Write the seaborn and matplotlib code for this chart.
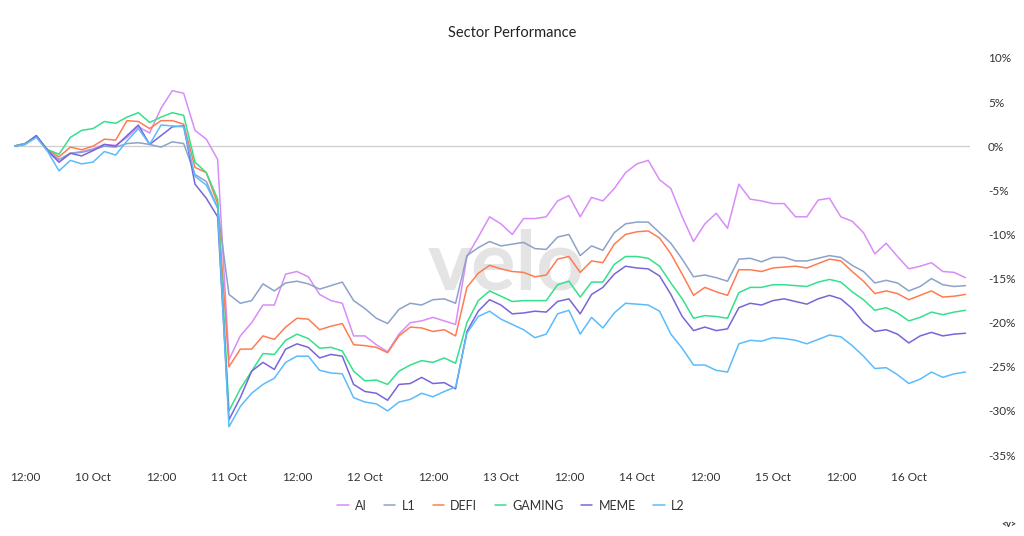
import numpy as np
import pandas as pd
import seaborn as sns
import matplotlib.pyplot as plt
import matplotlib.dates as mdates
from matplotlib.ticker import FuncFormatter, FixedLocator

# 2-hourly samples, % change since start
times = pd.date_range("2025-10-09 10:00", periods=85, freq="2h")

ai = [0, 0.3, 1.2, -0.5, -1.8, -0.8, -0.6, -0.3, 0.2, 0.1,
      1.0, 2.2, 1.5, 4.3, 6.3, 6.0, 1.8, 0.8, -1.5, -24.2,
      -21.5, -20.0, -18.0, -18.0, -14.5, -14.2, -14.8, -16.8, -17.5, -17.8,
      -21.5, -21.5, -22.5, -23.3, -21.3, -20.0, -19.8, -19.4, -19.8, -20.2,
      -12.5, -10.3, -8.0, -8.8, -10.0, -8.2, -8.2, -8.0, -6.2, -5.6,
      -8.0, -5.8, -6.2, -4.8, -3.0, -2.0, -1.6, -3.8, -4.8, -8.0,
      -10.8, -8.8, -7.6, -9.3, -4.3, -6.0, -6.2, -6.5, -6.5, -8.0,
      -8.0, -6.1, -5.9, -8.0, -8.5, -9.8, -12.2, -11.0, -12.5, -13.9,
      -13.6, -13.2, -14.2, -14.3, -14.9]
l1 = [0, 0.3, 1.2, -0.5, -1.5, -0.8, -0.7, -0.4, 0.0, -0.1,
      0.3, 0.4, 0.2, -0.1, 0.5, 0.3, -3.2, -4.0, -7.0, -16.8,
      -17.8, -17.5, -15.6, -16.4, -15.5, -15.3, -15.6, -16.2, -15.8, -15.4,
      -17.5, -18.4, -19.5, -20.1, -18.5, -17.8, -18.0, -17.4, -17.3, -17.8,
      -12.4, -11.5, -10.8, -11.3, -11.1, -10.9, -11.6, -11.7, -10.3, -10.0,
      -12.4, -11.3, -11.8, -9.8, -8.8, -8.6, -8.6, -9.8, -11.0, -12.8,
      -14.8, -14.6, -14.9, -15.3, -12.8, -12.7, -13.1, -12.6, -12.6, -13.0,
      -13.0, -12.7, -12.4, -12.6, -13.5, -14.2, -15.5, -15.2, -15.5, -16.4,
      -15.9, -15.0, -15.7, -15.9, -15.8]
defi = [0, 0.3, 1.1, -0.4, -1.2, -0.1, -0.4, 0.0, 0.8, 0.7,
        2.9, 2.8, 2.0, 2.9, 2.9, 2.5, -2.4, -3.0, -6.5, -25.0,
        -23.0, -23.0, -21.5, -21.9, -20.5, -19.5, -19.6, -20.8, -20.4, -20.1,
        -22.5, -22.6, -22.8, -23.4, -21.5, -20.5, -20.6, -21.0, -20.8, -21.5,
        -16.0, -14.4, -13.5, -13.9, -14.2, -14.3, -14.8, -14.6, -12.8, -12.5,
        -14.3, -13.0, -13.2, -11.1, -10.0, -9.7, -9.6, -10.4, -12.2, -14.5,
        -16.9, -16.0, -16.5, -16.9, -14.0, -14.0, -14.2, -13.8, -13.7, -13.6,
        -13.8, -13.3, -12.8, -13.0, -14.2, -15.3, -16.7, -16.4, -16.7, -17.4,
        -16.9, -16.4, -17.1, -17.0, -16.8]
gaming = [0, 0.3, 1.1, -0.4, -0.9, 1.0, 1.8, 2.0, 2.8, 2.6,
          3.3, 3.8, 2.7, 3.3, 3.8, 3.5, -1.8, -3.0, -6.0, -30.0,
          -27.5, -25.5, -23.5, -23.6, -22.0, -21.3, -21.8, -22.9, -22.8, -23.2,
          -25.5, -26.6, -26.5, -27.0, -25.5, -24.8, -24.3, -24.5, -24.0, -24.6,
          -20.0, -17.5, -16.4, -17.0, -17.6, -17.5, -17.5, -17.5, -15.7, -15.3,
          -17.1, -15.4, -15.4, -13.4, -12.5, -12.5, -12.7, -13.6, -15.5, -17.3,
          -19.5, -19.2, -19.3, -19.5, -16.6, -16.0, -16.0, -15.7, -15.7, -15.8,
          -15.9, -15.4, -15.1, -15.4, -16.5, -17.4, -18.6, -18.3, -18.9, -19.8,
          -19.4, -18.8, -19.1, -18.8, -18.6]
meme = [0, 0.2, 1.2, -0.5, -1.8, -0.8, -1.1, -0.5, 0.2, 0.0,
        1.2, 2.4, 0.2, 1.2, 2.2, 2.3, -4.3, -5.9, -8.0, -31.0,
        -28.5, -25.5, -24.5, -25.3, -23.0, -22.4, -22.8, -24.0, -23.6, -23.8,
        -27.0, -27.8, -28.0, -28.8, -27.0, -26.9, -26.2, -26.9, -26.8, -27.5,
        -21.0, -18.7, -17.4, -18.0, -19.0, -18.9, -18.7, -18.8, -17.6, -17.3,
        -19.0, -16.8, -16.0, -14.5, -13.6, -13.8, -13.9, -14.7, -16.8, -19.3,
        -20.9, -20.5, -20.9, -20.7, -18.3, -17.8, -18.0, -17.5, -17.3, -17.6,
        -17.9, -17.3, -16.9, -17.3, -18.4, -20.0, -21.0, -20.8, -21.3, -22.3,
        -21.5, -21.1, -21.5, -21.3, -21.2]
l2 = [0, 0.2, 1.0, -0.6, -2.8, -1.6, -2.0, -1.8, -0.6, -1.0,
      0.6, 2.0, 0.2, 2.4, 2.3, 2.2, -3.4, -4.4, -7.0, -31.8,
      -29.5, -28.0, -27.0, -26.3, -24.5, -23.8, -23.8, -25.4, -25.7, -25.8,
      -28.5, -29.0, -29.2, -30.0, -29.0, -28.7, -28.0, -28.4, -27.8, -27.3,
      -21.2, -19.3, -18.7, -19.6, -20.2, -20.8, -21.7, -21.3, -19.0, -18.6,
      -21.3, -19.4, -20.6, -18.9, -17.8, -17.9, -18.0, -18.7, -21.3, -22.9,
      -24.8, -24.8, -25.4, -25.6, -22.4, -22.0, -22.1, -21.7, -21.8, -22.0,
      -22.4, -21.9, -21.4, -21.6, -22.6, -23.8, -25.2, -25.1, -25.9, -26.9,
      -26.4, -25.6, -26.2, -25.8, -25.6]

sectors = ["AI", "L1", "DEFI", "GAMING", "MEME", "L2"]
colors = ["#d98cf8", "#8da2c9", "#ff7c52", "#35e08c", "#7766d9", "#5bbcfb"]

df = pd.DataFrame({"time": times, "AI": ai, "L1": l1, "DEFI": defi,
                   "GAMING": gaming, "MEME": meme, "L2": l2})
long = df.melt(id_vars="time", var_name="sector", value_name="pct")

sns.set_style("white")
plt.rcParams["font.family"] = ["Lato", "DejaVu Sans"]

fig = plt.figure(figsize=(10.24, 5.36), dpi=100)
ax = fig.add_axes([13.7 / 1024, 81 / 536, (970 - 13.7) / 1024, 397 / 536])

ax.text(0.515, 0.475, "velo", transform=ax.transAxes, ha="center", va="center",
        fontsize=60, fontweight="bold", color="#e4e4e4", zorder=0)
ax.axhline(0, color="#cfcfcf", lw=0.9, zorder=1)

sns.lineplot(data=long, x="time", y="pct", hue="sector", hue_order=sectors,
             palette=dict(zip(sectors, colors)), linewidth=1.1, ax=ax, zorder=2)

ax.set_xlim(times[0], times[0] + pd.Timedelta(hours=168.8))
ax.set_ylim(-35, 10)
for s in ax.spines.values():
    s.set_visible(False)

ax.yaxis.tick_right()
ax.yaxis.set_major_locator(FixedLocator(np.arange(-35, 11, 5)))
ax.yaxis.set_major_formatter(FuncFormatter(lambda v, p: f"{v:.0f}%"))
ax.tick_params(axis="y", length=0, pad=13, labelsize=8.5, labelcolor="#333333")

ax.xaxis.set_major_locator(mdates.HourLocator(byhour=[0, 12]))


def fmt_x(v, p):
    d = mdates.num2date(v)
    return "12:00" if d.hour == 12 else f"{d.day} Oct"


ax.xaxis.set_major_formatter(FuncFormatter(fmt_x))
ax.tick_params(axis="x", length=0, pad=12, labelsize=8.5, labelcolor="#333333")
ax.set_xlabel("")
ax.set_ylabel("")

fig.text(0.5, 0.938, "Sector Performance", ha="center", va="center",
         fontsize=10.5, color="#222222")

sns.move_legend(ax, "center", bbox_to_anchor=(0.52, -0.128), ncol=6,
                frameon=False, title=None, fontsize=9, handlelength=0.9,
                columnspacing=1.4, handletextpad=0.5)
for t in ax.get_legend().get_texts():
    t.set_color("#333333")

fig.text(0.985, 0.022, "<v>", ha="center", va="center", fontsize=6.5,
         fontweight="bold", color="#333333")

fig.savefig("out.png", dpi=100)
